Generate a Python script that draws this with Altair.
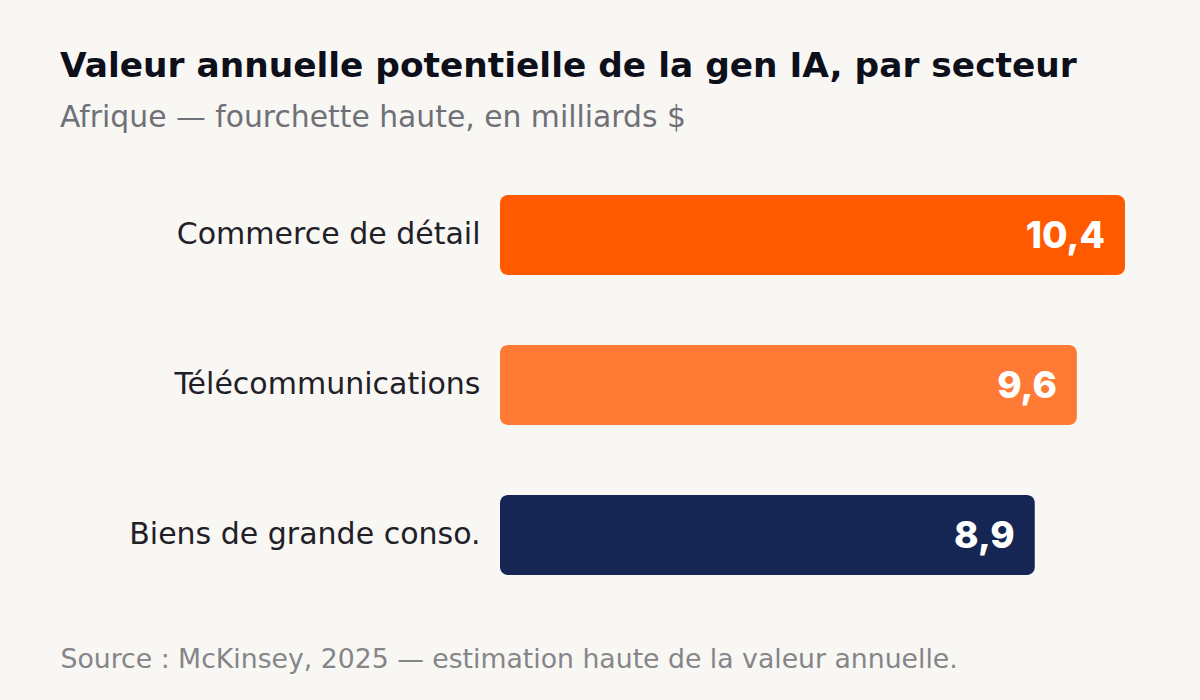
import altair as alt
import pandas as pd

sectors = ["Commerce de détail", "Télécommunications", "Biens de grande conso."]
values = [10.4, 9.6, 8.9]
labels = ["10,4", "9,6", "8,9"]
colors = ["#FF5A00", "#FF7A35", "#152654"]

df = pd.DataFrame({"secteur": sectors, "valeur": values, "label": labels})

FONT = "DejaVu Sans"

base = alt.Chart(df).encode(
    y=alt.Y(
        "secteur:N",
        sort=sectors,
        scale=alt.Scale(paddingInner=0.4667, paddingOuter=0.2333),
        axis=alt.Axis(
            title=None, ticks=False, domain=False, grid=False,
            labelFontSize=30, labelColor="#1f2028", labelPadding=20,
            labelFont=FONT, labelFontWeight=400, labelLimit=440,
        ),
    ),
    x=alt.X(
        "valeur:Q",
        scale=alt.Scale(domain=[0, 10.4], nice=False, zero=True),
        axis=alt.Axis(
            title="Source : McKinsey, 2025 — estimation haute de la valeur annuelle.",
            labels=False, ticks=False, domain=False, grid=False,
            titleFont=FONT, titleFontSize=26.7, titleFontWeight=400, titleColor="#85858a",
            titleAnchor="start", titleAlign="left", titleBaseline="alphabetic",
            titleX=-440, titleY=57,
        ),
    ),
)

bars = base.mark_bar(cornerRadius=8).encode(
    color=alt.Color("secteur:N", scale=alt.Scale(domain=sectors, range=colors), legend=None)
)

text = base.mark_text(
    align="right", baseline="middle", dx=-20, dy=2, color="white",
    font="Inter", fontSize=37, fontWeight=800,
).encode(text="label:N")

chart = (
    alt.layer(bars, text)
    .properties(
        width=625,
        height=450,
        background="#F9F7F3",
        padding={"left": 500, "top": 160, "right": 75, "bottom": 90},
        autosize=alt.AutoSizeParams(type="none"),
        title=alt.TitleParams(
            text="Valeur annuelle potentielle de la gen IA, par secteur",
            subtitle="Afrique — fourchette haute, en milliards $",
            anchor="start", frame="group", dx=-440, offset=26,
            font=FONT, fontSize=34.4, fontWeight=700, color="#0d0f1a",
            subtitleFont=FONT, subtitleFontSize=29.8, subtitleFontWeight=400,
            subtitleColor="#707078", subtitlePadding=19,
        ),
    )
    .configure_view(stroke=None)
)

chart.save("out.html", embed_options={"renderer": "svg", "actions": False})
